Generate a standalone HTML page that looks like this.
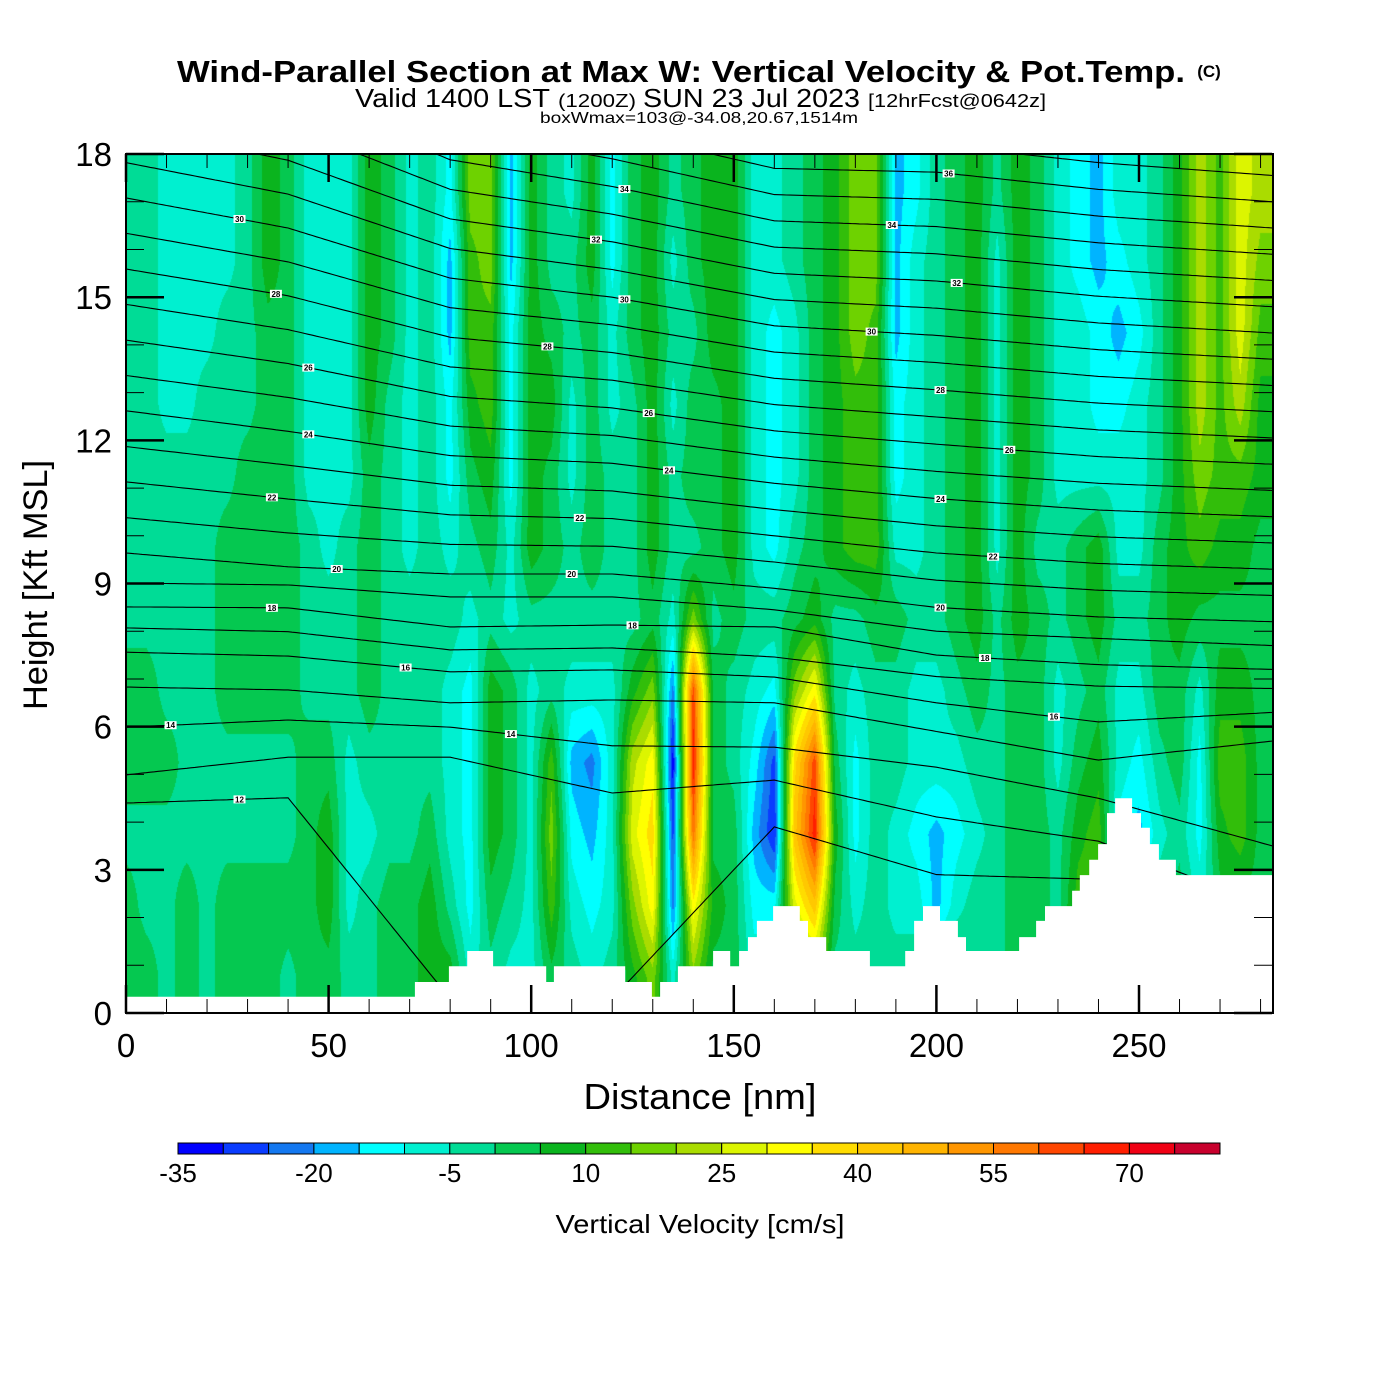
<!DOCTYPE html>
<html><head><meta charset="utf-8"><title>Wind-Parallel Section</title>
<style>
html,body{margin:0;padding:0;background:#fff;}
#wrap{position:relative;width:1400px;height:1400px;overflow:hidden;background:#fff;}
#field{position:absolute;left:126px;top:154px;}
#ov{position:absolute;left:0;top:0;}
text{font-family:"Liberation Sans",Arial,sans-serif;}
</style></head>
<body>
<div id="wrap">
<canvas id="field" width="1147" height="859"></canvas>
<svg id="ov" width="1400" height="1400" xmlns="http://www.w3.org/2000/svg">
  <defs><clipPath id="plotClip"><rect x="126" y="154" width="1147" height="859"/></clipPath></defs>
  <g id="thetaLines" clip-path="url(#plotClip)"></g>
  <g id="terrainG"></g>
  <g id="thetaLabels" clip-path="url(#plotClip)"></g>
  <rect x="126" y="154" width="1147" height="859" fill="none" stroke="#000" stroke-width="2"/>
  <g id="ticks"></g>
  <g id="xTickLabels"></g>
  <g id="yTickLabels"></g>
  <text x="681" y="82" text-anchor="middle" font-size="31" font-weight="bold" textLength="1008" lengthAdjust="spacingAndGlyphs">Wind-Parallel Section at Max W: Vertical Velocity &amp; Pot.Temp.</text>
  <text x="1209" y="77" text-anchor="middle" font-size="17" font-weight="bold">(C)</text>
  <text x="355" y="107" font-size="26" textLength="195" lengthAdjust="spacingAndGlyphs">Valid 1400 LST</text>
  <text x="558" y="107" font-size="18" textLength="78" lengthAdjust="spacingAndGlyphs">(1200Z)</text>
  <text x="643" y="107" font-size="26" textLength="217" lengthAdjust="spacingAndGlyphs">SUN 23 Jul 2023</text>
  <text x="868" y="107" font-size="18" textLength="178" lengthAdjust="spacingAndGlyphs">[12hrFcst@0642z]</text>
  <text x="699" y="123" text-anchor="middle" font-size="16" textLength="318" lengthAdjust="spacingAndGlyphs">boxWmax=103@-34.08,20.67,1514m</text>
  <text x="700" y="1109" text-anchor="middle" font-size="36" textLength="233" lengthAdjust="spacingAndGlyphs">Distance [nm]</text>
  <text transform="translate(47,585) rotate(-90)" text-anchor="middle" font-size="34" textLength="250" lengthAdjust="spacingAndGlyphs">Height [Kft MSL]</text>
  <g id="colorbar"></g>
  <text x="700" y="1233" text-anchor="middle" font-size="26" textLength="289" lengthAdjust="spacingAndGlyphs">Vertical Velocity [cm/s]</text>
</svg>
</div>
<script>
// ---------- data ----------
const distCols = [0,5,10,15,20,25,30,35,40,45,50,55,60,65,70,75,80,85,90,95,100,105,110,115,120,125,130,135,140,145,150,155,160,165,170,175,180,185,190,195,200,205,210,215,220,225,230,235,240,245,250,255,260,265,270,275,280];
const rowHeights = [0.75,2.25,3.75,5.25,6.75,8.25,9.75,11.25,12.75,14.25,15.75,17.25];
const w_h0075 = [3,3,-2,3,-2,3,3,3,-2,3, 3,-2,-2,3,3,8,8,-7,-2,-7, -7,3,-2,-7,-2,8,18,-7,18,3, 3,-7,-7,13,18,-2,-2,-2,-2,-2, -2,3,-2,-2,3,3,-2,13,13,-2, -2,-2,3,-7,3,3,3];
const w_h0225 = [3,-2,-2,3,-2,3,3,3,3,3, 8,-7,-2,3,3,8,-2,-12,3,-2, -7,13,-7,-12,-7,18,33,-22,33,8, 3,-12,-12,28,43,3,-7,-2,-7,-7, -17,-7,-2,-2,3,3,-2,13,13,-2, -7,-2,3,-7,3,3,3];
const w_h0375 = [-2,-2,-2,-2,-2,-2,-2,-2,-2,3, 8,-7,-7,-2,-2,3,-7,-12,8,3, -7,18,-12,-17,-7,28,38,-27,58,3, 3,-17,-30,43,68,8,-12,-2,-7,-12, -17,-12,-7,-2,3,3,-2,8,13,-12, -17,-7,-2,-12,8,13,3];
const w_h0525 = [3,3,3,-2,-2,-2,-2,-2,-2,3, 3,-7,-2,-2,-2,-2,-7,-12,8,3, -7,13,-17,-22,-7,23,33,-33,68,3, -2,-12,-27,38,63,3,-12,-2,-2,-7, -7,-7,-2,-2,3,3,-7,3,8,-7, -12,-2,3,-12,13,13,3];
const w_h0675 = [3,3,-2,-2,-2,3,3,3,3,-2, -2,-2,3,-2,-2,-2,-7,-12,8,3, -7,-2,-7,-7,-7,8,18,-22,63,3, -2,-7,-12,18,33,-2,-7,-2,-2,-7, -7,-2,3,-2,3,3,-7,-2,3,-7, -7,3,3,-7,8,8,3];
const w_h0825 = [-2,-2,-2,-2,-2,3,3,3,3,-2, -2,-2,3,-2,-2,-2,-2,-7,-2,-7, -2,-2,-2,-2,-2,-2,3,-7,18,-2, 3,-2,-2,3,8,-2,-2,3,3,-2, -2,3,8,-2,8,3,-2,3,8,-2, -2,3,8,3,3,3,3];
const w_h0975 = [-2,-2,-2,-2,-2,3,3,3,3,-2, -7,-2,3,-2,-7,-2,-7,-2,3,-7, 8,3,-2,3,-2,-2,8,-2,-2,3, 8,-7,-12,-2,3,8,13,13,-7,-7, -2,3,8,-7,8,-2,-2,3,8,-7, -7,3,8,13,8,8,3];
const w_h1125 = [-2,-2,-2,-2,-2,-2,3,3,3,-7, -7,-7,3,-2,-7,-2,-12,3,8,-12, 8,3,-7,3,-2,-2,8,-2,3,3, 8,-7,-12,-7,3,8,13,13,-12,-7, -2,3,8,-7,8,3,-7,-7,-7,-7, -7,-2,8,18,13,13,8];
const w_h1275 = [-2,-2,-7,-7,-2,-2,-2,3,3,-7, -7,-7,8,-2,-7,-2,-12,8,13,-12, 8,8,-7,3,-7,-2,8,-7,3,3, 8,-7,-12,-7,3,8,13,13,-12,-7, -2,3,8,-7,8,3,-7,-7,-12,-12, -7,-2,8,23,13,23,8];
const w_h1425 = [-2,-2,-7,-7,-7,-2,-2,3,3,-7, -7,-7,8,3,-7,-2,-17,13,13,-12, 8,3,-2,3,-7,3,8,-2,-2,8, 8,-7,-12,-7,3,8,18,13,-17,-7, -2,3,8,-7,8,3,-7,-7,-12,-17, -12,-2,8,23,13,28,13];
const w_h1575 = [-2,-2,-7,-7,-7,-7,-2,8,3,-7, -7,-7,8,3,-7,-2,-17,13,18,-17, 8,-2,-2,8,-12,3,8,-7,3,8, 8,-7,-7,-2,3,8,18,18,-17,-7, -2,3,8,-7,8,3,-7,-12,-17,-12, -7,-2,8,23,13,28,18];
const w_h1725 = [-2,-2,-7,-7,-7,-7,-2,8,3,-7, -7,-7,8,3,-7,-2,-12,18,18,-17, 8,-2,-7,8,-12,3,8,-2,3,8, 8,-7,-7,-2,3,8,18,18,-17,-12, -2,3,8,-2,8,3,-7,-12,-17,-7, -7,-2,8,23,13,28,23];
const wRows = [w_h0075,w_h0225,w_h0375,w_h0525,w_h0675,w_h0825,w_h0975,w_h1125,w_h1275,w_h1425,w_h1575,w_h1725];

const binColors = ["#0000ff","#0a3cff","#1478f0","#00b4ff","#00ffff","#00f0d0","#00dc96","#05c850","#0ab41e","#32be0a","#6ed200","#aadc00","#dcf500","#ffff00","#ffdc00","#ffc800","#ffb400","#ff9600","#ff7800","#ff4600","#ff1e00","#f00014","#c8002d"];
const binMin = -35, binStep = 5;
const colorbarTicks = [-35,-20,-5,10,25,40,55,70];

const terrainDist = [0,71.3,79.7,84.2,90.6,103.7,105.6,123.2,129.8,131.8,136.2,144.9,149.1,151.3,153.5,155.7,159.7,166.3,168.3,172.8,183.6,192.3,194.5,196.7,200.9,205.3,207.3,220.4,224.6,226.8,233.5,235.4,237.7,239.9,242.1,244.1,248.3,250.5,252.7,254.9,259.1];
const terrainHeight = [0.34,0.65,0.98,1.3,0.98,0.65,0.98,0.65,0.34,0.65,0.98,1.3,0.98,1.3,1.59,1.93,2.24,1.93,1.59,1.3,0.98,1.3,1.93,2.24,1.93,1.59,1.3,1.59,1.93,2.24,2.56,2.89,3.21,3.54,4.19,4.5,4.19,3.88,3.54,3.21,2.89];

const thetaNodes = [0,40,80,120,160,200,240,283];
const thetaLevels = [12,13,14,15,16,17,18,19,20,21,22,23,24,25,26,27,28,29,30,31,32,33,34,35,36,37,38];
const th12 = [4.40,4.51,0.30,0.30,3.90,2.90,2.80,1.50];
const th13 = [4.99,5.36,5.36,4.61,4.88,4.11,3.60,2.20];
const th14 = [5.99,6.14,5.99,5.60,5.57,5.15,4.50,3.50];
const th15 = [6.83,6.77,6.50,6.56,6.50,5.90,5.30,5.70];
const th16 = [7.56,7.48,7.15,7.19,7.04,6.50,6.10,6.30];
const th17 = [8.07,7.99,7.61,7.65,7.46,7.05,6.85,6.80];
const th18 = [8.51,8.49,8.09,8.13,8.09,7.50,7.30,7.20];
const th19 = [9.01,8.97,8.72,8.72,8.45,8.00,7.85,7.70];
const th20 = [9.64,9.35,9.20,9.20,8.90,8.50,8.30,8.20];
const th21 = [10.38,10.06,9.82,9.78,9.45,9.07,8.86,8.75];
const th22 = [11.13,10.77,10.44,10.36,10.00,9.64,9.42,9.30];
const th23 = [11.87,11.48,11.06,10.94,10.55,10.21,9.98,9.85];
const th24 = [12.62,12.19,11.68,11.52,11.10,10.78,10.54,10.40];
const th25 = [13.36,12.90,12.30,12.10,11.65,11.35,11.10,10.95];
const th26 = [14.10,13.61,12.92,12.68,12.20,11.92,11.66,11.50];
const th27 = [14.85,14.32,13.54,13.26,12.75,12.49,12.22,12.05];
const th28 = [15.59,15.03,14.16,13.84,13.30,13.06,12.78,12.60];
const th29 = [16.34,15.74,14.78,14.42,13.85,13.63,13.34,13.15];
const th30 = [17.08,16.45,15.40,15.00,14.40,14.20,13.90,13.70];
const th31 = [17.82,17.16,16.02,15.58,14.95,14.77,14.46,14.25];
const th32 = [18.57,17.87,16.64,16.16,15.50,15.34,15.02,14.80];
const th33 = [19.31,18.58,17.26,16.74,16.05,15.91,15.58,15.35];
const th34 = [20.06,19.29,17.88,17.32,16.60,16.48,16.14,15.90];
const th35 = [20.80,20.00,18.50,17.90,17.15,17.05,16.70,16.45];
const th36 = [21.54,20.71,19.12,18.48,17.70,17.62,17.26,17.00];
const th37 = [22.29,21.42,19.74,19.06,18.25,18.19,17.82,17.55];
const th38 = [23.03,22.13,20.36,19.64,18.80,18.76,18.38,18.10];
const thetaHeights = [th12,th13,th14,th15,th16,th17,th18,th19,th20,th21,th22,th23,th24,th25,th26,th27,th28,th29,th30,th31,th32,th33,th34,th35,th36,th37,th38];

const labelLevels = [30,28,26,24,22,20,18,16,14,12,34,32,30,28,26,24,22,20,18,14,36,34,32,30,28,26,24,22,20,18,16];
const labelDists  = [28,37,45,45,36,52,36,69,11,28,123,116,123,104,129,134,112,110,125,95,203,189,205,184,201,218,201,214,201,212,229];

const xTicksMajor = [0,50,100,150,200,250];
const yTicksMajor = [0,3,6,9,12,15,18];

// ---------- axes ----------
const X0 = 126, XS = 4.052, Y0 = 1013, YS = 47.72, DMAX = 283, HMAX = 18;
function xOf(d){ return X0 + d*XS; }
function yOf(h){ return Y0 - h*YS; }
function dOf(px){ return (px - X0)/XS; }
function hOf(py){ return (Y0 - py)/YS; }
const SVGNS = "http://www.w3.org/2000/svg";

function fieldAt(d,h){
  let fc = d/(distCols[1]-distCols[0]);
  fc = Math.max(0, Math.min(distCols.length-1, fc));
  let fr = (h - rowHeights[0])/(rowHeights[1]-rowHeights[0]);
  fr = Math.max(0, Math.min(rowHeights.length-1, fr));
  const c0 = Math.min(Math.floor(fc), distCols.length-2), r0 = Math.min(Math.floor(fr), rowHeights.length-2);
  const tx = fc - c0, ty = fr - r0;
  const a = wRows[r0][c0], b = wRows[r0][c0+1], c = wRows[r0+1][c0], e = wRows[r0+1][c0+1];
  return (a*(1-tx)+b*tx)*(1-ty) + (c*(1-tx)+e*tx)*ty;
}
function binOf(v){ return Math.max(0, Math.min(binColors.length-1, Math.floor((v-binMin)/binStep))); }
function hexRGB(hx){ return [parseInt(hx.substr(1,2),16),parseInt(hx.substr(3,2),16),parseInt(hx.substr(5,2),16)]; }
const binRGB = binColors.map(hexRGB);

// ---------- field ----------
(function(){
  const cv = document.getElementById('field');
  const ctx = cv.getContext('2d');
  const W = cv.width, H = cv.height;
  const img = ctx.createImageData(W,H);
  for(let py=0; py<H; py++){
    const h = hOf(154+py+0.5);
    for(let px=0; px<W; px++){
      const d = dOf(126+px+0.5);
      const rgb = binRGB[binOf(fieldAt(d,h))];
      const k = (py*W+px)*4;
      img.data[k]=rgb[0]; img.data[k+1]=rgb[1]; img.data[k+2]=rgb[2]; img.data[k+3]=255;
    }
  }
  ctx.putImageData(img,0,0);
})();

function thetaAt(arr,d){
  for(let i=0;i<thetaNodes.length-1;i++){
    if(d<=thetaNodes[i+1]){
      const t=(d-thetaNodes[i])/(thetaNodes[i+1]-thetaNodes[i]);
      return arr[i]*(1-t)+arr[i+1]*t;
    }
  }
  return arr[arr.length-1];
}

// ---------- theta contours ----------
(function(){
  const g = document.getElementById('thetaLines');
  thetaHeights.forEach(function(arr,i){
    let dstr = "";
    for(let d=0; d<=DMAX; d+=1){
      dstr += (d===0?"M":"L") + xOf(d).toFixed(1) + "," + yOf(thetaAt(arr,d)).toFixed(1);
    }
    const p = document.createElementNS(SVGNS,'path');
    p.setAttribute('d',dstr);
    p.setAttribute('fill','none');
    p.setAttribute('stroke','#000');
    p.setAttribute('stroke-width','1.1');
    
    
    g.appendChild(p);
  });
})();

// ---------- terrain ----------
(function(){
  const g = document.getElementById('terrainG');
  let pts = [[xOf(0), Y0+1]];
  for(let i=0;i<terrainDist.length;i++){
    const dEnd = (i<terrainDist.length-1)? terrainDist[i+1] : DMAX;
    pts.push([xOf(terrainDist[i]), yOf(terrainHeight[i])]);
    pts.push([xOf(dEnd), yOf(terrainHeight[i])]);
  }
  pts.push([xOf(DMAX)+1, Y0+1]);
  const poly = document.createElementNS(SVGNS,'polygon');
  poly.setAttribute('points', pts.map(p=>p[0].toFixed(1)+","+p[1].toFixed(1)).join(" "));
  poly.setAttribute('fill','#fff');
  
  
  g.appendChild(poly);
})();

// ---------- contour labels ----------
(function(){
  const g = document.getElementById('thetaLabels');
  for(let i=0;i<labelLevels.length;i++){
    const li = thetaLevels.indexOf(labelLevels[i]);
    if(li<0) continue;
    const h = thetaAt(thetaHeights[li], labelDists[i]);
    const x = xOf(labelDists[i]), y = yOf(h);
    const r = document.createElementNS(SVGNS,'rect');
    r.setAttribute('x',(x-6).toFixed(1)); r.setAttribute('y',(y-4).toFixed(1));
    r.setAttribute('width','12'); r.setAttribute('height','8'); r.setAttribute('fill','#fff');
    
    
    g.appendChild(r);
    const t = document.createElementNS(SVGNS,'text');
    t.setAttribute('x',x.toFixed(1)); t.setAttribute('y',(y+3).toFixed(1));
    t.setAttribute('text-anchor','middle'); t.setAttribute('font-size','8'); t.setAttribute('font-weight','bold');
    t.textContent = String(labelLevels[i]);
    
    
    g.appendChild(t);
  }
})();

// ---------- ticks & labels ----------
(function(){
  const g = document.getElementById('ticks');
  function line(x1,y1,x2,y2,w,name){
    const l = document.createElementNS(SVGNS,'line');
    l.setAttribute('x1',x1); l.setAttribute('y1',y1); l.setAttribute('x2',x2); l.setAttribute('y2',y2);
    l.setAttribute('stroke','#000'); l.setAttribute('stroke-width',w);
    
    
    g.appendChild(l);
  }
  for(let d=0; d<=DMAX; d+=10){
    const major = xTicksMajor.indexOf(d)>=0;
    const len = major?28:14, w = major?2.5:1;
    const x = xOf(d);
    line(x,Y0,x,Y0-len,w,'x-tick');
    line(x,154,x,154+len,w,'x-tick-top');
  }
  for(let h=0; h<=HMAX; h+=1){
    const major = yTicksMajor.indexOf(h)>=0;
    const len = major?38:18, w = major?2.5:1;
    const y = yOf(h);
    line(126,y,126+len,y,w,'y-tick');
    line(1272,y,1272-len,y,w,'y-tick-right');
  }
  const gx = document.getElementById('xTickLabels');
  xTicksMajor.forEach(function(d){
    const t = document.createElementNS(SVGNS,'text');
    t.setAttribute('x',xOf(d).toFixed(1)); t.setAttribute('y','1057');
    t.setAttribute('text-anchor','middle'); t.setAttribute('font-size','33');
    t.textContent = String(d);
    
    
    gx.appendChild(t);
  });
  const gy = document.getElementById('yTickLabels');
  yTicksMajor.forEach(function(h){
    const t = document.createElementNS(SVGNS,'text');
    t.setAttribute('x','112'); t.setAttribute('y',(yOf(h)+12).toFixed(1));
    t.setAttribute('text-anchor','end'); t.setAttribute('font-size','33');
    t.textContent = String(h);
    
    
    gy.appendChild(t);
  });
})();

// ---------- colorbar ----------
(function(){
  const g = document.getElementById('colorbar');
  const cx0 = 178, cx1 = 1220, cy = 1143, ch = 11;
  const bw = (cx1-cx0)/binColors.length;
  function cbX(v){ return cx0 + (v-binMin)/binStep*bw; }
  binColors.forEach(function(c,i){
    const r = document.createElementNS(SVGNS,'rect');
    r.setAttribute('x',(cx0+i*bw).toFixed(1)); r.setAttribute('y',cy);
    r.setAttribute('width',bw.toFixed(1)); r.setAttribute('height',ch);
    r.setAttribute('fill',c); r.setAttribute('stroke','#000'); r.setAttribute('stroke-width','1');
    
    
    g.appendChild(r);
  });
  colorbarTicks.forEach(function(v){
    const t = document.createElementNS(SVGNS,'text');
    t.setAttribute('x',cbX(v).toFixed(1)); t.setAttribute('y','1182');
    t.setAttribute('text-anchor','middle'); t.setAttribute('font-size','26');
    t.textContent = String(v);
    
    
    g.appendChild(t);
  });
})();
</script>
</body></html>
